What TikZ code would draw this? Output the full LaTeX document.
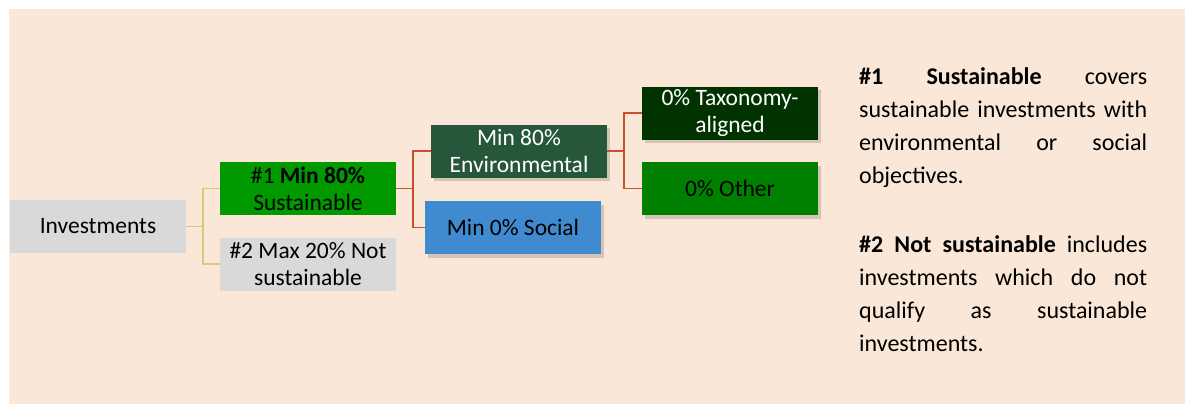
\documentclass[tikz,border=0pt]{standalone}
\usepackage{fontspec}
\setmainfont{Carlito}
\usetikzlibrary{shadows}
\definecolor{bg}{HTML}{FAE7D7}
\definecolor{boxgray}{HTML}{D9D9D9}
\definecolor{susgreen}{HTML}{009900}
\definecolor{envgreen}{HTML}{27573A}
\definecolor{taxgreen}{HTML}{013300}
\definecolor{othgreen}{HTML}{008000}
\definecolor{socblue}{HTML}{408BD0}
\definecolor{redline}{HTML}{C8502E}
\definecolor{tanline}{HTML}{D8C97E}
\begin{document}
\begin{tikzpicture}[x=1pt,y=-1pt,
  box/.style={minimum width=176pt, minimum height=53pt, inner sep=0pt, align=center,
    font=\fontsize{23.5}{27}\selectfont},
  shad/.style={drop shadow={shadow xshift=2.5pt, shadow yshift=-3.5pt, opacity=0.15, fill=black}},
  tanconn/.style={draw=tanline, line width=1.5pt},
  redconn/.style={draw=redline, line width=1.8pt}]
\useasboundingbox (0,0) rectangle (1191,405);
\fill[bg] (9,9) rectangle (1185,404);

\node[box, fill=boxgray] (inv) at (98,226.5) {Investments};
\node[box, fill=susgreen] (s1) at (308,188.5) {\#1 \textbf{Min 80\%}\\Sustainable};
\node[box, fill=boxgray] (s2) at (308,264) {\#2 Max 20\% Not\\sustainable};
\node[box, fill=envgreen, text=white, shad] (env) at (519,151) {Min 80\%\\Environmental};
\node[box, fill=socblue, shad] (soc) at (513,227.5) {Min 0\% Social};
\node[box, fill=taxgreen, text=white, shad] (tax) at (730,113) {0\% Taxonomy-\\aligned};
\node[box, fill=othgreen, shad] (oth) at (730,188.5) {0\% Other};

\coordinate (j1) at (203,226.5);
\coordinate (j2) at (413,188.5);
\coordinate (j3) at (624,151);
\draw[tanconn] (inv.east) -- (j1);
\draw[tanconn] (s1.west) -| (j1) |- (s2.west);
\draw[redconn] (s1.east) -- (j2);
\draw[redconn] (env.west) -| (j2) |- (soc.west);
\draw[redconn] (env.east) -- (j3);
\draw[redconn] (tax.west) -| (j3) |- (oth.west);

\node[anchor=north west, inner sep=0pt, text width=288pt, align=justify,
  font=\fontsize{24}{33}\selectfont] (txt) at (859,67) {\setlength{\parindent}{0pt}%
\textbf{\#1 Sustainable} covers\linebreak sustainable investments with\linebreak environmental or social\linebreak objectives.\par\vspace{36pt}
\textbf{\#2 Not sustainable} includes\linebreak investments which do not\linebreak qualify as sustainable\linebreak investments.};
\end{tikzpicture}
\end{document}
